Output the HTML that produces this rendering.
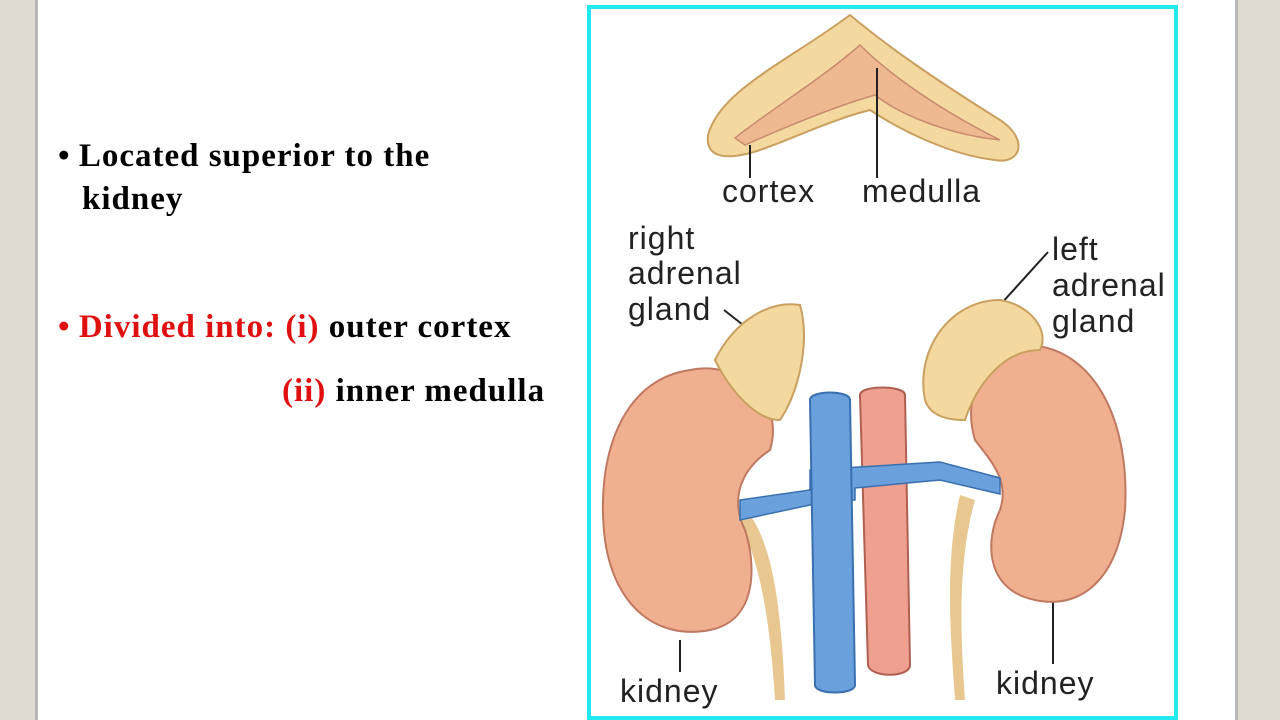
<!DOCTYPE html>
<html><head><meta charset="utf-8"><style>
html,body{margin:0;padding:0;width:1280px;height:720px;overflow:hidden;background:#fff}
.bg{position:absolute;top:0;height:720px;background:#dedbd1}
.t{position:absolute;font-family:"Liberation Serif",serif;font-weight:bold;font-size:33px;white-space:nowrap;letter-spacing:1px}
.r{color:#e01010}
</style></head><body>
<div class="bg" style="left:0;width:35px"></div>
<div class="bg" style="left:35px;width:3px;background:#b8b8b8"></div>
<div class="bg" style="left:1238px;width:42px"></div>
<div class="bg" style="left:1235px;width:3px;background:#b8b8b8"></div>
<div class="t" style="left:58px;top:138px"><span style="letter-spacing:0">•</span> Located superior to the</div>
<div class="t" style="left:82px;top:181px">kidney</div>
<div class="t" style="left:58px;top:309px"><span class="r"><span style="letter-spacing:0">•</span> Divided into: (i)</span> outer cortex</div>
<div class="t" style="left:282px;top:373px"><span class="r">(ii)</span> inner medulla</div>
<svg style="position:absolute;left:0;top:0" width="1280" height="720">
<rect x="589" y="7" width="587" height="711" fill="none" stroke="#22e8f0" stroke-width="4"/>
<path d="M708,135 C720,90 790,60 850,15 C880,40 920,70 1000,120 C1030,140 1020,165 995,160 C950,155 900,130 870,110 C830,120 790,140 760,150 C730,160 705,160 708,135Z" fill="#f3d9a0" stroke="#c9a060" stroke-width="2"/>
<path d="M735,138 C770,110 820,80 860,45 C890,75 940,110 1000,140 C950,135 900,115 875,95 C840,105 790,125 745,145Z" fill="#eeb890" stroke="#c98a70" stroke-width="1.5"/>
<line x1="750" y1="145" x2="750" y2="178" stroke="#222" stroke-width="2"/>
<line x1="877" y1="68" x2="877" y2="178" stroke="#222" stroke-width="2"/>
<g font-family="Liberation Sans,sans-serif" font-size="32" fill="#222" letter-spacing="1">
<text x="722" y="202">cortex</text><text x="862" y="202">medulla</text>
<text x="628" y="249">right</text><text x="628" y="284">adrenal</text><text x="628" y="320">gland</text>
<text x="1052" y="260">left</text><text x="1052" y="296">adrenal</text><text x="1052" y="332">gland</text>
<text x="620" y="702">kidney</text><text x="996" y="694">kidney</text>
</g>
<line x1="724" y1="310" x2="752" y2="332" stroke="#222" stroke-width="2"/>
<line x1="1048" y1="252" x2="1000" y2="305" stroke="#222" stroke-width="2"/>
<line x1="680" y1="640" x2="680" y2="672" stroke="#222" stroke-width="2"/>
<line x1="1053" y1="600" x2="1053" y2="664" stroke="#222" stroke-width="2"/>
<path d="M738,520 C760,560 770,620 775,700 L785,700 C782,620 775,550 750,515Z" fill="#e8c890"/>
<path d="M960,495 C945,560 950,630 955,700 L965,700 C960,630 958,560 975,500Z" fill="#e8c890"/>
<path d="M690,370 C620,380 595,460 605,540 C615,610 660,640 710,630 C760,620 755,560 745,530 C730,500 740,470 770,450 C785,400 740,360 690,370Z" fill="#f0b090" stroke="#c07860" stroke-width="2"/>
<path d="M1030,345 C1100,350 1130,430 1125,510 C1118,580 1080,610 1035,600 C985,590 985,540 1000,510 C1010,480 990,460 975,440 C960,390 990,345 1030,345Z" fill="#f0b090" stroke="#c07860" stroke-width="2"/>
<path d="M715,360 C735,320 770,300 800,305 C810,340 800,390 780,420 C755,420 730,390 715,360Z" fill="#f3d9a0" stroke="#c9a060" stroke-width="2"/>
<path d="M925,400 C915,350 950,300 1000,300 C1030,305 1050,330 1040,350 C1000,350 975,390 965,420 C945,420 930,415 925,400Z" fill="#f3d9a0" stroke="#c9a060" stroke-width="2"/>
<path d="M860,395 C860,385 905,385 905,395 L910,665 C910,678 870,678 868,665Z" fill="#f0a090" stroke="#b06050" stroke-width="2"/>
<path d="M740,500 L810,490 L810,470 L940,462 L1000,478 L1000,494 L940,480 L855,488 L855,500 L810,505 L740,520Z" fill="#6aa0dc" stroke="#3a70b0" stroke-width="1.5"/>
<path d="M810,400 C810,390 850,390 850,400 L855,685 C855,695 815,695 815,685Z" fill="#6aa0dc" stroke="#3a70b0" stroke-width="2"/>
</svg>
</body></html>
